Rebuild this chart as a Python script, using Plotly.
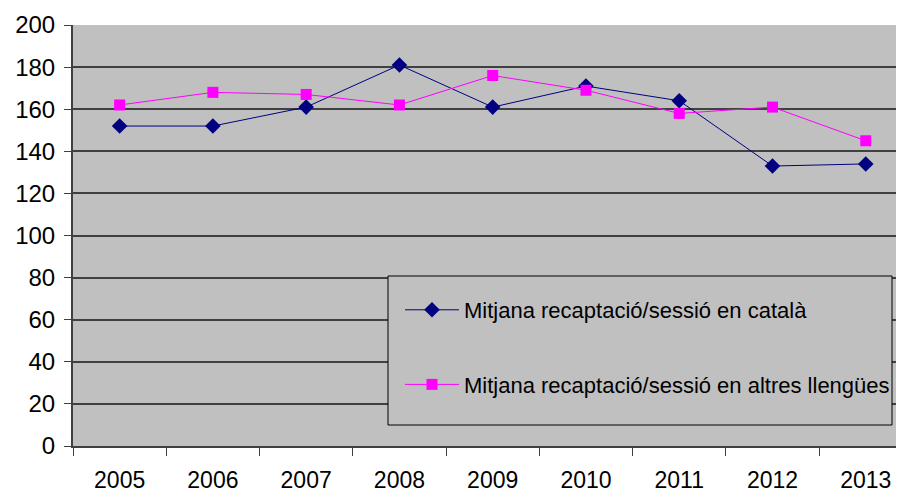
import plotly.graph_objects as go

years = ["2005", "2006", "2007", "2008", "2009", "2010", "2011", "2012", "2013"]
catala = [152, 152, 161, 181, 161, 171, 164, 133, 134]
altres = [162, 168, 167, 162, 176, 169, 158, 161, 145]
y_ticks = [0, 20, 40, 60, 80, 100, 120, 140, 160, 180, 200]

fig = go.Figure()
fig.add_trace(go.Scatter(
    x=years, y=catala, mode="lines+markers",
    name="Mitjana recaptació/sessió en català",
    line=dict(color="#000080", width=1),
    marker=dict(symbol="diamond", size=12, color="#000080"),
    legendgroup="a",
))
fig.add_trace(go.Scatter(
    x=years, y=altres, mode="lines+markers",
    name="Mitjana recaptació/sessió en altres llengües",
    line=dict(color="#FF00FF", width=1),
    marker=dict(symbol="square", size=11, color="#FF00FF"),
    legendgroup="b",
))

# page has an 8px body margin: figure origin sits at (8, 8)
W, H = 896, 485
L, T, B = 65, 17, 47
PW, PH = W - L, H - T - B  # 831 x 421


def px(x):
    return (x - 8 - L) / PW


def py(y):
    return (H - B - (y - 8)) / PH


fig.add_shape(type="rect", xref="paper", yref="paper",
              x0=px(388), x1=px(892), y0=py(425), y1=py(276),
              line=dict(color="#000000", width=1), fillcolor="#C0C0C0",
              layer="above")

fig.update_layout(
    width=W, height=H,
    margin=dict(l=L, r=0, t=T, b=B, autoexpand=False),
    paper_bgcolor="white",
    plot_bgcolor="#C0C0C0",
    font=dict(family="Liberation Sans, Arial, sans-serif", color="black"),
    showlegend=True,
    legend=dict(
        x=px(400), y=py(289), xanchor="left", yanchor="top",
        bgcolor="rgba(0,0,0,0)", borderwidth=0,
        font=dict(size=22, color="black"),
        tracegroupgap=43, itemwidth=54,
    ),
    xaxis=dict(
        type="category", range=[-0.5, 8.41],
        showgrid=False, ticks="outside", tickson="boundaries",
        ticklen=8, tickcolor="#404040", tickwidth=1,
        showline=True, linecolor="#404040", linewidth=2,
        tickfont=dict(size=23), ticklabelstandoff=12, fixedrange=True,
        automargin=False,
    ),
    yaxis=dict(
        range=[0, 200], tickvals=y_ticks,
        showgrid=True, gridcolor="#404040", gridwidth=1.5,
        ticks="outside", ticklen=7, tickcolor="#404040",
        showline=True, linecolor="#404040", linewidth=2,
        zeroline=False,
        tickfont=dict(size=24), ticklabelstandoff=4, fixedrange=True,
        automargin=False,
    ),
)

fig.write_html("out.html")
